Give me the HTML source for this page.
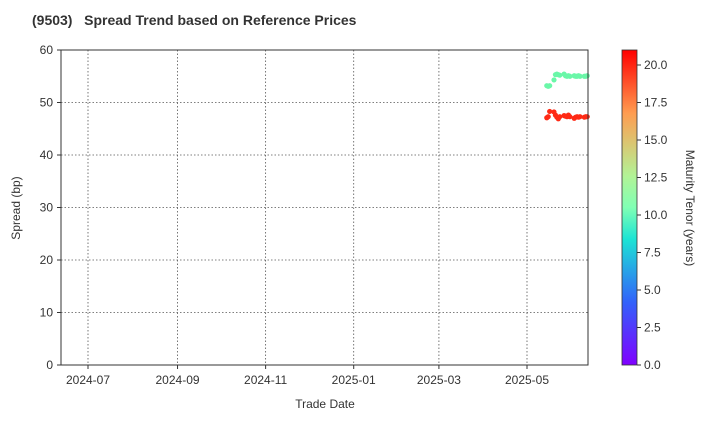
<!DOCTYPE html>
<html><head><meta charset="utf-8"><style>
body{margin:0;background:#fff;font-family:"Liberation Sans",Arial,sans-serif}
svg text{font-family:"Liberation Sans",Arial,sans-serif;fill:#333}
</style></head><body>
<svg id="c" width="720" height="420" xmlns="http://www.w3.org/2000/svg">
<defs><linearGradient id="rb" x1="0" y1="1" x2="0" y2="0">
<stop offset="0" stop-color="#8000ff"/><stop offset="0.2" stop-color="#3262fa"/><stop offset="0.4" stop-color="#1ce4d4"/><stop offset="0.5" stop-color="#80ffb4"/><stop offset="0.6" stop-color="#b2f396"/><stop offset="0.8" stop-color="#ff9c50"/><stop offset="1" stop-color="#ff0000"/></linearGradient></defs>
<text x="32" y="25" font-size="14" font-weight="bold" style="white-space:pre">(9503)   Spread Trend based on Reference Prices</text>
<g id="grid"></g><g id="pts"></g>
<rect x="61" y="50" width="527" height="315" fill="none" stroke="#333"/>
<text x="325" y="408" font-size="12" text-anchor="middle">Trade Date</text>
<text transform="translate(20,208) rotate(-90)" font-size="12" text-anchor="middle">Spread (bp)</text>
<rect x="622" y="50" width="15" height="315" fill="url(#rb)" stroke="#333" stroke-width="0.8"/>
<g id="cb"></g>
<text transform="translate(686,208) rotate(90)" font-size="12" text-anchor="middle">Maturity Tenor (years)</text>
</svg>
<script>
const xTickLabels=["2024-07","2024-09","2024-11","2025-01","2025-03","2025-05"];
const yTicks=[0,10,20,30,40,50,60];
const cbTicks=[0,2.5,5,7.5,10,12.5,15,17.5,20];
const dates=["2025-05-14","2025-05-15","2025-05-16","2025-05-19","2025-05-20","2025-05-21","2025-05-22","2025-05-23","2025-05-26","2025-05-27","2025-05-28","2025-05-29","2025-05-30","2025-06-02","2025-06-03","2025-06-04","2025-06-05","2025-06-06","2025-06-09","2025-06-10","2025-06-11"];
const spread10=[53.2,53.1,53.2,54.3,55.3,55.4,55.3,55.2,55.4,55.1,55.0,55.1,55.0,55.1,55.0,55.0,55.1,55.0,55.0,55.0,55.1];
const spread20=[47.1,47.3,48.3,48.2,47.6,47.2,46.9,47.3,47.5,47.4,47.3,47.6,47.3,47.0,47.2,47.3,47.2,47.3,47.2,47.3,47.3];
const tenors=[10,20];
const NS="http://www.w3.org/2000/svg";
const t0=Date.parse("2024-07-01"),pxDay=439/304;
const xs=d=>88+(Date.parse(d)-t0)/864e5*pxDay;
const ys=v=>365-v*5.25;
const cbY=v=>365-v*15;
function mk(tag,a,p){const e=document.createElementNS(NS,tag);for(const k in a)e.setAttribute(k,a[k]);p.appendChild(e);return e;}
const g=document.getElementById('grid');
xTickLabels.forEach(l=>{const x=xs(l+"-01");
const ln=mk('line',{x1:x,x2:x,y1:50,y2:365,stroke:'#555','stroke-dasharray':'1.5,2','stroke-width':0.8},g);

mk('line',{x1:x,x2:x,y1:365,y2:369,stroke:'#333'},g);
const t=mk('text',{x:x,y:384,'font-size':12,'text-anchor':'middle'},g);t.textContent=l;
});
yTicks.forEach(v=>{const y=ys(v);
if(v>0&&v<60){const ln=mk('line',{x1:61,x2:588,y1:y,y2:y,stroke:'#555','stroke-dasharray':'1.5,2','stroke-width':0.8},g);
}
mk('line',{x1:57,x2:61,y1:y,y2:y,stroke:'#333'},g);
const t=mk('text',{x:53,y:y+4,'font-size':12,'text-anchor':'end'},g);t.textContent=v;
});
const p=document.getElementById('pts');
const cols={10:'#6af7a8',20:'#ff2a15'};
[spread10,spread20].forEach((s,i)=>{s.forEach((v,j)=>{
const c=mk('circle',{cx:xs(dates[j])+1,cy:ys(v),r:2.6,fill:cols[tenors[i]]},p);
});});
const cb=document.getElementById('cb');
cbTicks.forEach(v=>{const y=cbY(v);mk('line',{x1:637,x2:641,y1:y,y2:y,stroke:'#333'},cb);
const t=mk('text',{x:644,y:y+4,'font-size':12},cb);t.textContent=v.toFixed(1);
});
</script>
</body></html>
